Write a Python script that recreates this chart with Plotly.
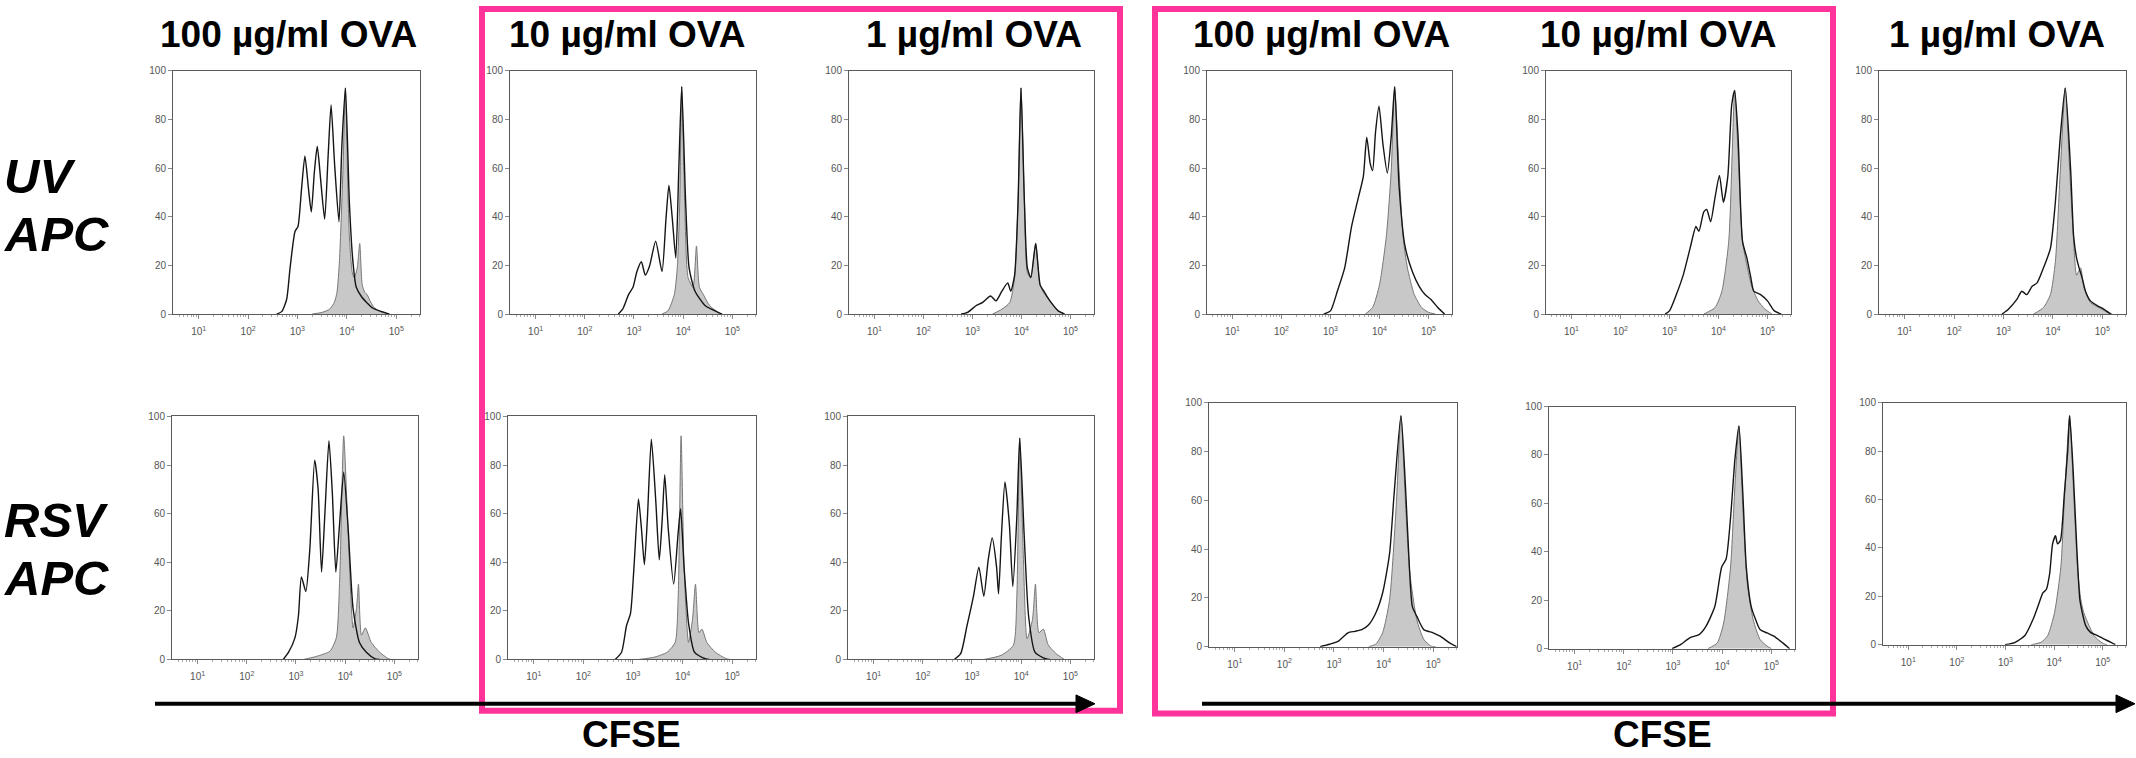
import plotly.graph_objects as go

W, H = 2136, 758

# ---------------- text ----------------
col_titles = ["100 µg/ml OVA", "10 µg/ml OVA", "1 µg/ml OVA",
              "100 µg/ml OVA", "10 µg/ml OVA", "1 µg/ml OVA"]
row_labels = [["UV", "APC"], ["RSV", "APC"]]
axis_label = "CFSE"
y_tick_vals = [0, 20, 40, 60, 80, 100]
x_tick_vals = [10, 100, 1000, 10000, 100000]
x_tick_text = ["10<sup>1</sup>", "10<sup>2</sup>", "10<sup>3</sup>", "10<sup>4</sup>", "10<sup>5</sup>"]

# ---------------- data: log10(CFSE) and % of max ----------------
# Row 1 (UV APC)
r1c1_open_log = [2.58, 2.68, 2.78, 2.85, 2.95, 3.01, 3.08, 3.15, 3.22, 3.28, 3.34, 3.40, 3.47, 3.55, 3.62, 3.68, 3.75, 3.84, 3.90, 3.97, 4.05, 4.12, 4.19, 4.30, 4.39, 4.52, 4.66, 4.86]
r1c1_open_pct = [0, 1, 6, 19, 34, 36, 51, 65, 52, 42, 58, 69, 55, 39, 65, 86, 62, 38, 70, 93, 46, 22, 11, 7, 5, 2.5, 1.3, 0]
r1c1_fill_log = [3.30, 3.50, 3.65, 3.75, 3.80, 3.85, 3.92, 3.97, 4.01, 4.05, 4.11, 4.15, 4.21, 4.26, 4.31, 4.36, 4.41, 4.48, 4.56, 4.72, 4.86]
r1c1_fill_pct = [0, 0.7, 2, 5, 9, 22, 59, 93, 60, 32, 17, 15, 19, 29, 12, 9, 8, 5, 2.5, 0.7, 0]

r1c2_open_log = [2.68, 2.77, 2.89, 2.98, 3.06, 3.15, 3.23, 3.32, 3.44, 3.57, 3.65, 3.71, 3.78, 3.85, 3.91, 3.97, 4.05, 4.12, 4.24, 4.45, 4.71, 4.79]
r1c2_open_pct = [0, 2, 8, 11, 17.5, 21.5, 16, 20, 30, 17.5, 39, 53, 39, 23, 59, 93.5, 46, 19, 9.4, 3.4, 0.7, 0]
r1c2_fill_log = [3.57, 3.69, 3.82, 3.88, 3.93, 3.97, 4.03, 4.10, 4.20, 4.27, 4.33, 4.41, 4.54, 4.71, 4.79]
r1c2_fill_pct = [0, 1.3, 8, 19, 46, 93.5, 46, 15, 11, 28, 11, 8, 3.4, 0.7, 0]

r1c3_open_log = [2.77, 2.90, 3.07, 3.20, 3.37, 3.48, 3.60, 3.72, 3.78, 3.86, 3.93, 3.99, 4.06, 4.12, 4.19, 4.29, 4.38, 4.45, 4.58, 4.75, 4.88]
r1c3_open_pct = [0, 0.7, 3.4, 4.7, 7.4, 5.4, 9.4, 12.8, 9.4, 16, 46, 93, 46, 19, 15, 29, 12, 9.4, 5.4, 1.3, 0]
r1c3_fill_log = [3.41, 3.60, 3.76, 3.86, 3.93, 3.99, 4.06, 4.12, 4.19, 4.29, 4.38, 4.45, 4.58, 4.75, 4.88]
r1c3_fill_pct = [0, 2, 4.7, 15, 46, 93, 46, 17, 15, 29, 12, 10, 5.4, 1.3, 0]

r1c4_open_log = [2.86, 3.00, 3.14, 3.29, 3.43, 3.57, 3.67, 3.74, 3.81, 3.86, 3.92, 3.99, 4.07, 4.16, 4.24, 4.31, 4.40, 4.52, 4.67, 4.81, 4.93, 5.05, 5.19, 5.33]
r1c4_open_pct = [0, 1.3, 9.4, 19, 36, 48, 56.5, 72.7, 62, 59, 75, 85.5, 70, 58, 73, 93.5, 52.5, 28, 17.5, 11.4, 8, 6, 2.7, 0]
r1c4_fill_log = [3.71, 3.86, 4.00, 4.14, 4.24, 4.31, 4.40, 4.48, 4.57, 4.71, 4.86, 5.00, 5.14]
r1c4_fill_pct = [0, 2.7, 12, 32, 59, 93.5, 59, 32, 19, 8, 2.7, 0.7, 0]

r1c5_open_log = [2.91, 3.00, 3.14, 3.28, 3.42, 3.54, 3.60, 3.70, 3.76, 3.84, 3.93, 4.02, 4.10, 4.19, 4.27, 4.33, 4.40, 4.49, 4.58, 4.66, 4.72, 4.86, 5.00, 5.14, 5.28]
r1c5_open_pct = [0, 1.3, 8, 16, 27, 36, 34, 42, 43, 38, 48, 57, 46, 56.5, 86, 92, 73, 30, 23, 15, 9.4, 8, 5.4, 1.3, 0]
r1c5_fill_log = [3.70, 3.93, 4.07, 4.21, 4.28, 4.33, 4.40, 4.49, 4.58, 4.67, 4.81, 4.95, 5.09]
r1c5_fill_pct = [0, 2.7, 9.4, 30, 66, 92, 66, 30, 20, 12, 5.4, 2, 0]

r1c6_open_log = [2.97, 3.10, 3.27, 3.37, 3.47, 3.58, 3.68, 3.81, 3.95, 4.05, 4.15, 4.25, 4.36, 4.42, 4.48, 4.53, 4.59, 4.66, 4.76, 4.90, 5.03, 5.17]
r1c6_open_pct = [0, 2, 6, 9.4, 8, 11.4, 12.8, 19, 27, 46, 73, 93, 59, 32, 23, 19, 15, 9.4, 5.4, 3.4, 2, 0]
r1c6_fill_log = [3.61, 3.81, 3.95, 4.05, 4.15, 4.25, 4.34, 4.42, 4.48, 4.56, 4.63, 4.76, 4.93, 5.10, 5.20]
r1c6_fill_pct = [0, 2.7, 8, 21.5, 59, 93, 59, 30, 16, 19, 11, 4.7, 2.7, 0.7, 0]

# Row 2 (RSV APC)
r2c1_open_log = [2.74, 2.85, 2.98, 3.05, 3.11, 3.20, 3.28, 3.38, 3.45, 3.52, 3.59, 3.67, 3.74, 3.81, 3.88, 3.97, 4.06, 4.16, 4.29, 4.43, 4.60, 4.70]
r2c1_open_pct = [0, 3, 9, 18, 34, 28, 45, 82, 70, 36, 61, 90, 68, 36, 54, 77, 54, 21, 7, 3, 0.4, 0]
r2c1_fill_log = [3.15, 3.42, 3.69, 3.82, 3.89, 3.97, 4.06, 4.16, 4.23, 4.27, 4.33, 4.41, 4.53, 4.70, 4.87, 4.93]
r2c1_fill_pct = [0, 1.3, 3.4, 9, 34, 92, 52, 13, 21, 31, 10, 13, 7, 3, 0.4, 0]

r2c2_open_log = [2.64, 2.77, 2.87, 2.95, 3.02, 3.11, 3.17, 3.23, 3.29, 3.37, 3.46, 3.53, 3.59, 3.64, 3.71, 3.82, 3.91, 3.96, 4.03, 4.12, 4.24, 4.41, 4.54]
r2c2_open_pct = [0, 3, 14, 19, 38, 66, 54, 39, 58, 90.6, 65, 41, 58, 76, 54, 31, 52, 62, 38, 15, 3, 0.7, 0]
r2c2_fill_log = [3.11, 3.44, 3.69, 3.85, 3.91, 3.97, 4.03, 4.12, 4.20, 4.26, 4.33, 4.39, 4.49, 4.66, 4.87, 4.96]
r2c2_fill_pct = [0, 1, 3, 7, 25, 92, 38, 7, 16.5, 31, 11, 12.5, 7, 3, 0.4, 0]

r2c3_open_log = [2.64, 2.77, 2.90, 3.03, 3.14, 3.24, 3.33, 3.41, 3.50, 3.54, 3.60, 3.67, 3.76, 3.83, 3.91, 3.97, 4.06, 4.15, 4.28, 4.45, 4.58]
r2c3_open_pct = [0, 2.4, 14, 26, 38, 26, 41, 50, 38, 27, 51.5, 73, 55.6, 30, 58, 91, 51.5, 18, 3, 0.7, 0]
r2c3_fill_log = [3.24, 3.59, 3.84, 3.91, 3.97, 4.04, 4.12, 4.23, 4.29, 4.36, 4.45, 4.55, 4.71, 4.88]
r2c3_fill_pct = [0, 1.7, 5.8, 25, 91, 45, 8.5, 16.5, 31, 11, 12.5, 6, 2.4, 0]

r2c4_open_log = [2.72, 2.91, 3.09, 3.28, 3.42, 3.56, 3.70, 3.84, 3.98, 4.12, 4.21, 4.35, 4.44, 4.52, 4.58, 4.67, 4.81, 5.00, 5.14, 5.33, 5.47]
r2c4_open_pct = [0, 1, 2.3, 5.7, 6.3, 7, 9, 13.7, 22, 38, 62, 94.6, 66, 32.6, 16.4, 12.4, 7, 5.7, 4.3, 1.6, 0]
r2c4_fill_log = [3.70, 3.84, 3.98, 4.12, 4.26, 4.35, 4.44, 4.53, 4.67, 4.81, 4.95, 5.05]
r2c4_fill_pct = [0, 1, 5.7, 19, 59.6, 94.6, 59.6, 30, 11, 3, 0.3, 0]

r2c5_open_log = [2.98, 3.16, 3.34, 3.53, 3.67, 3.85, 3.99, 4.08, 4.17, 4.26, 4.34, 4.42, 4.49, 4.59, 4.68, 4.77, 4.91, 5.05, 5.23, 5.37]
r2c5_open_pct = [0, 1.8, 4.5, 5.8, 9.2, 17.4, 33.7, 37, 54, 78.5, 92, 64, 33.7, 17.4, 12, 7.9, 6.5, 5.2, 2.4, 0]
r2c5_fill_log = [3.71, 3.90, 4.03, 4.17, 4.26, 4.34, 4.42, 4.51, 4.63, 4.77, 4.91, 5.00]
r2c5_fill_pct = [0, 2.4, 10.6, 33.7, 67.7, 92, 58, 27, 12, 3.8, 1.1, 0]

r2c6_open_log = [2.99, 3.20, 3.40, 3.57, 3.67, 3.77, 3.84, 3.91, 3.97, 4.03, 4.07, 4.13, 4.21, 4.28, 4.32, 4.39, 4.47, 4.53, 4.58, 4.65, 4.75, 4.89, 5.02, 5.16, 5.26]
r2c6_open_pct = [0, 1, 3.8, 10.6, 16, 21.4, 22.8, 29.5, 41.7, 45, 41.7, 43, 62, 79.7, 94.6, 73, 39, 18.7, 13.3, 7.9, 5.1, 3.8, 2.4, 1.1, 0]
r2c6_fill_log = [3.53, 3.74, 3.87, 4.01, 4.14, 4.21, 4.32, 4.41, 4.49, 4.55, 4.61, 4.72, 4.82, 4.92, 5.02, 5.09]
r2c6_fill_pct = [0, 1.1, 3.8, 13.3, 32.2, 59, 94.6, 59, 29.5, 18.7, 13.3, 7.9, 3.8, 1.8, 0.4, 0]

panels = [
    (r1c1_open_log, r1c1_open_pct, r1c1_fill_log, r1c1_fill_pct),
    (r1c2_open_log, r1c2_open_pct, r1c2_fill_log, r1c2_fill_pct),
    (r1c3_open_log, r1c3_open_pct, r1c3_fill_log, r1c3_fill_pct),
    (r1c4_open_log, r1c4_open_pct, r1c4_fill_log, r1c4_fill_pct),
    (r1c5_open_log, r1c5_open_pct, r1c5_fill_log, r1c5_fill_pct),
    (r1c6_open_log, r1c6_open_pct, r1c6_fill_log, r1c6_fill_pct),
    (r2c1_open_log, r2c1_open_pct, r2c1_fill_log, r2c1_fill_pct),
    (r2c2_open_log, r2c2_open_pct, r2c2_fill_log, r2c2_fill_pct),
    (r2c3_open_log, r2c3_open_pct, r2c3_fill_log, r2c3_fill_pct),
    (r2c4_open_log, r2c4_open_pct, r2c4_fill_log, r2c4_fill_pct),
    (r2c5_open_log, r2c5_open_pct, r2c5_fill_log, r2c5_fill_pct),
    (r2c6_open_log, r2c6_open_pct, r2c6_fill_log, r2c6_fill_pct),
]

# ---------------- layout (pixel boxes: left, top, right, bottom) ----------------
boxes = [
    (173, 66, 420, 313), (510, 66, 756, 313), (849, 66, 1094, 313),
    (1207, 66, 1452, 313), (1546, 66, 1791, 313), (1879, 66, 2126, 313),
    (172, 417, 418, 664), (508, 417, 756, 664), (848, 417, 1094, 664),
    (1209, 403, 1457, 651), (1549, 407, 1795, 653), (1883, 403, 2126, 649),
]
title_x = [288, 627, 974, 1321, 1658, 1997]

FONT = "Liberation Sans, Arial, Helvetica, sans-serif"
PINK = "#FF3399"


def px(x):
    return x / W


def py(y):
    return 1 - y / H


minor_vals = [k * 10 ** d for d in range(0, 6) for k in range(2, 10)]

fig = go.Figure()
layout = dict(
    width=W, height=H, margin=dict(l=0, r=0, t=0, b=0),
    paper_bgcolor="white", plot_bgcolor="white", showlegend=False,
)

for i, ((ol, op, fl, fp), (l, t, r, b)) in enumerate(zip(panels, boxes)):
    n = "" if i == 0 else str(i + 1)
    xa, ya = "x" + n, "y" + n
    fig.add_trace(go.Scatter(
        x=[10 ** v for v in fl], y=fp, xaxis=xa, yaxis=ya, mode="lines",
        fill="tozeroy", fillcolor="#c8c8c8",
        line=dict(color="#777777", width=1, shape="spline", smoothing=0.6),
        hoverinfo="skip"))
    fig.add_trace(go.Scatter(
        x=[10 ** v for v in ol], y=op, xaxis=xa, yaxis=ya, mode="lines",
        line=dict(color="#151515", width=1.4, shape="spline", smoothing=0.6),
        hoverinfo="skip"))
    layout["xaxis" + n] = dict(
        type="log", range=[0.48, 5.48], domain=[px(l), px(r)], anchor=ya,
        showline=True, mirror=True, linecolor="#5a5a5a", linewidth=1,
        ticks="outside", ticklen=4, tickcolor="#888", tickwidth=1,
        tickvals=x_tick_vals, ticktext=x_tick_text, ticklabelstandoff=4,
        tickfont=dict(family=FONT, size=10, color="#555"),
        minor=dict(tickvals=minor_vals, ticks="outside", ticklen=2, tickcolor="#aaa"),
        showgrid=False, zeroline=False)
    layout["yaxis" + n] = dict(
        range=[0, 100], domain=[py(b), py(t)], anchor=xa,
        showline=True, mirror=True, linecolor="#5a5a5a", linewidth=1,
        ticks="outside", ticklen=4, tickcolor="#888", tickwidth=1,
        tickvals=y_tick_vals, tickfont=dict(family=FONT, size=10, color="#555"),
        showgrid=False, zeroline=False)

annotations = []
for cx, txt in zip(title_x, col_titles):
    annotations.append(dict(
        x=px(cx), y=py(29), xref="paper", yref="paper", text=txt, showarrow=False,
        xanchor="center", yanchor="middle",
        font=dict(family=FONT, size=37, color="black", weight="bold")))

row_y = [(173, 232), (522, 581)]
for (l1, l2), (y1, y2) in zip(row_labels, row_y):
    for txt, yy in ((l1, y1), (l2, y2)):
        annotations.append(dict(
            x=px(2), y=py(yy), xref="paper", yref="paper", text=txt, showarrow=False,
            xanchor="left", yanchor="middle",
            font=dict(family=FONT, size=49, color="black", weight="bold", style="italic")))

for cx in (631, 1662):
    annotations.append(dict(
        x=px(cx), y=py(740), xref="paper", yref="paper", text=axis_label, showarrow=False,
        xanchor="center", yanchor="middle",
        font=dict(family=FONT, size=37, color="black", weight="bold")))

shapes = []
# pink group frames
for (x0, y0, x1, y1) in ((482, 3, 1120, 716), (1155, 3, 1833, 719)):
    shapes.append(dict(type="rect", xref="paper", yref="paper",
                       x0=px(x0), y0=py(y1), x1=px(x1), y1=py(y0),
                       line=dict(color=PINK, width=6), fillcolor="rgba(0,0,0,0)"))
# CFSE arrows
for (x0, x1) in ((155, 1095), (1202, 2135)):
    shapes.append(dict(type="line", xref="paper", yref="paper",
                       x0=px(x0), x1=px(x1 - 16), y0=py(709), y1=py(709),
                       line=dict(color="black", width=4)))
    shapes.append(dict(type="path", xref="paper", yref="paper",
                       path=f"M {px(x1 - 19)},{py(700)} L {px(x1)},{py(709)} L {px(x1 - 19)},{py(718)} Z",
                       fillcolor="black", line=dict(color="black", width=1)))

layout["annotations"] = annotations
layout["shapes"] = shapes
fig.update_layout(**layout)

fig.write_html("out.html")
